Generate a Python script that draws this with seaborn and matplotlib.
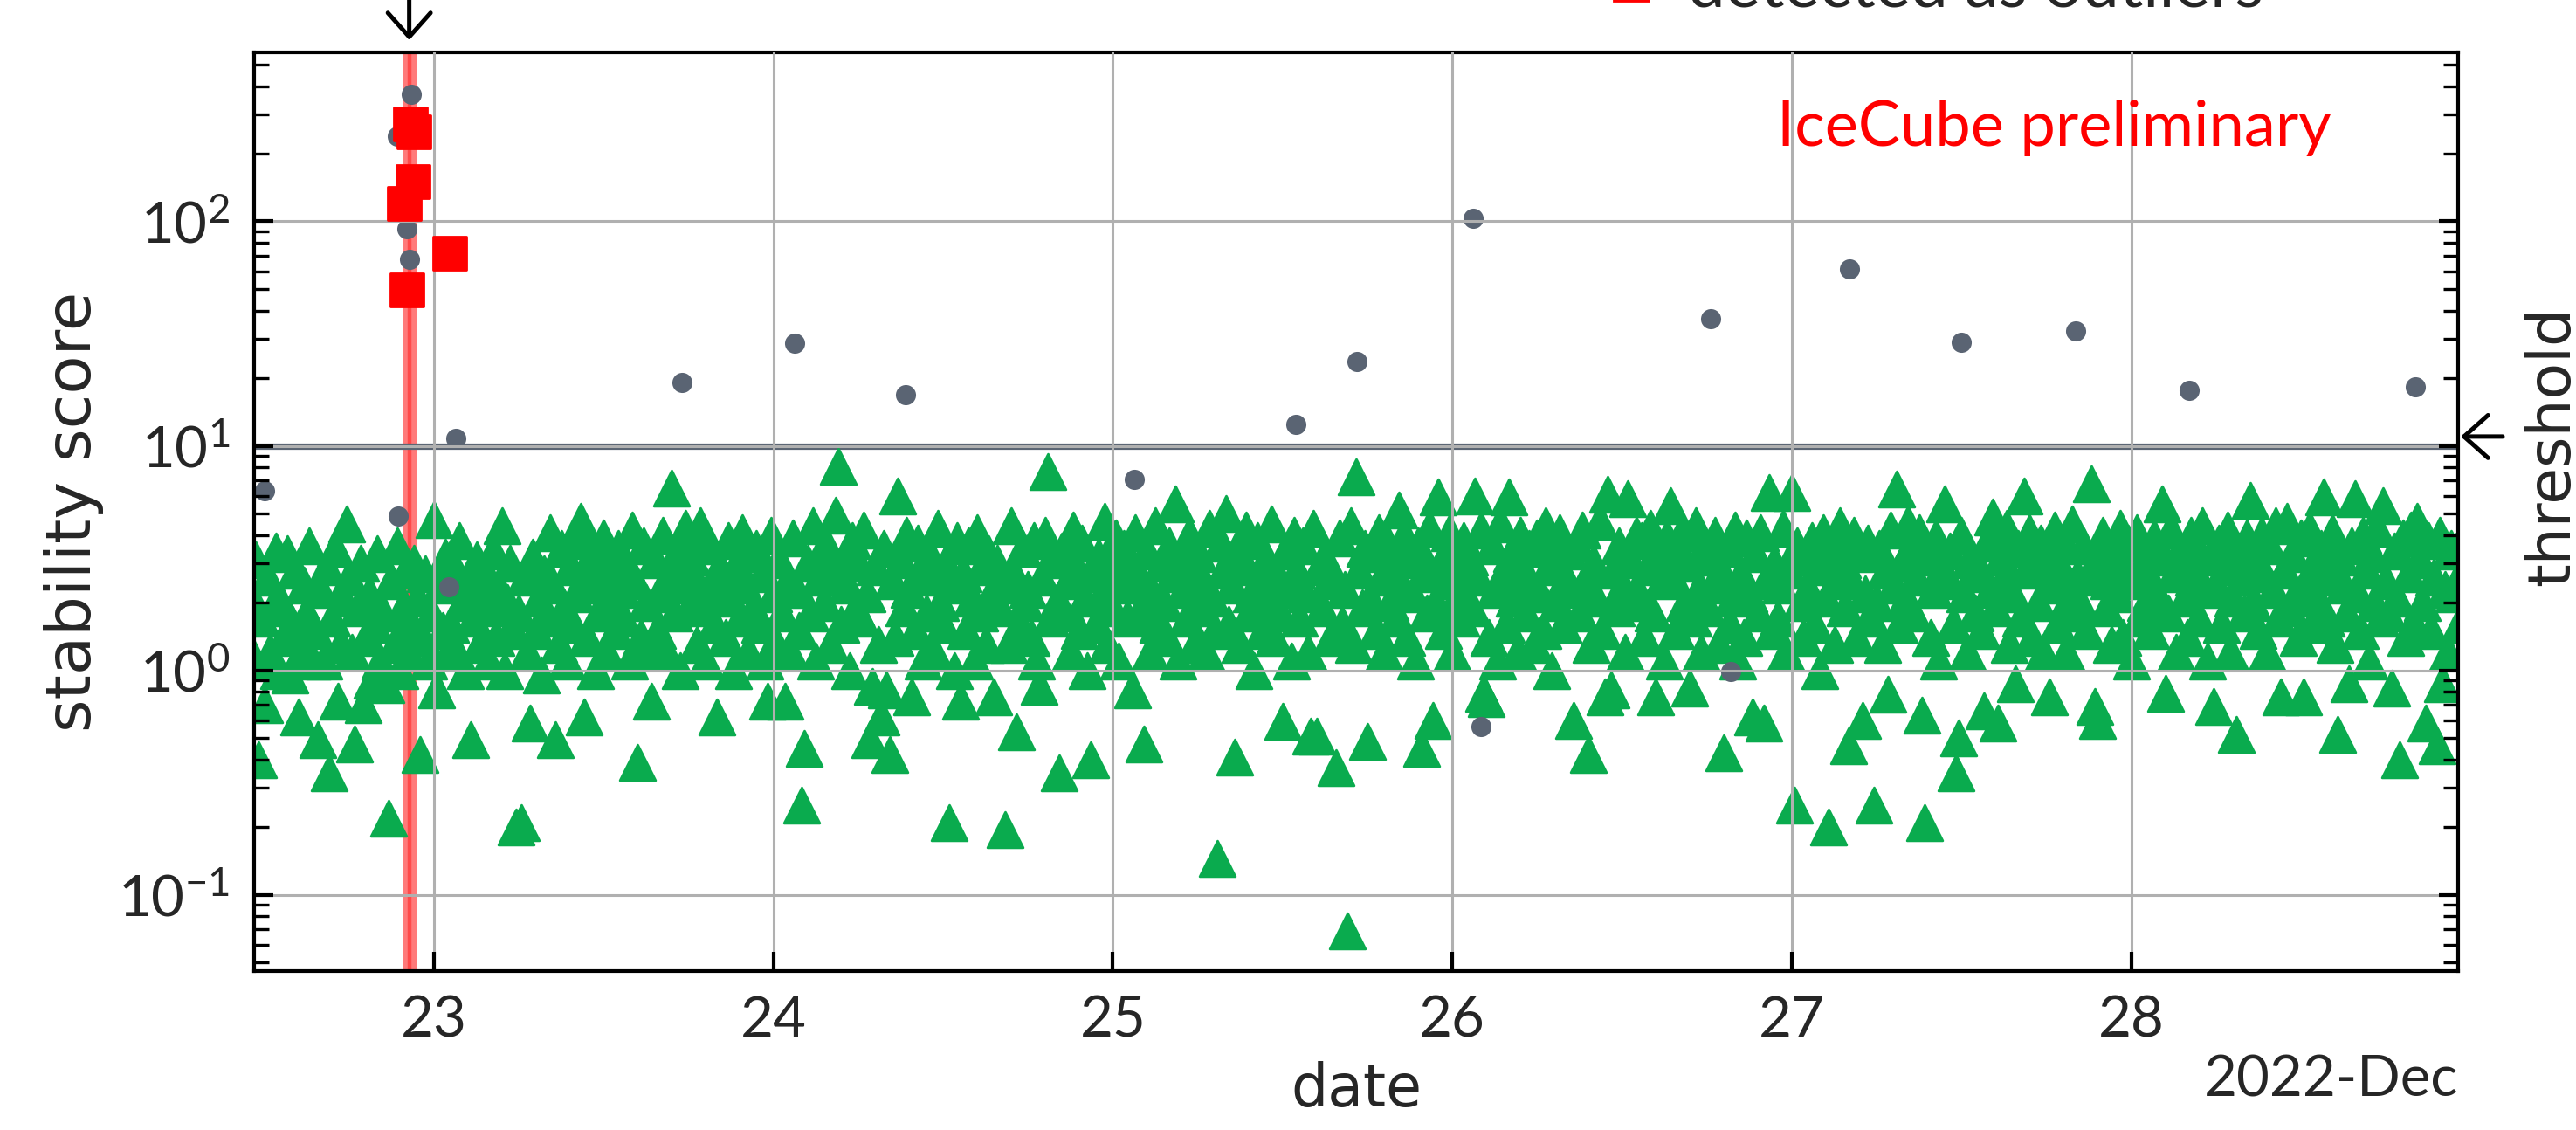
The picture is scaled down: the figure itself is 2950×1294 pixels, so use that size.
import numpy as np
import pandas as pd
import matplotlib
matplotlib.use('Agg')
import matplotlib.pyplot as plt
import matplotlib.dates as mdates
from matplotlib.lines import Line2D
import seaborn as sns

# stability score of every run (12 min cadence, starting 2022-12-22 10:48)
tri_start = '2022-12-22 10:48'
tri_scores = np.array("""
1.3 2.2 1.1 3.1 0.40 1.7 0.70 2.6 1.2 1.9 3.4 1.0
2.0 1.4 3.3 0.95 1.6 2.8 0.62 1.2 2.4 1.8 3.6 1.1
1.5 0.49 2.3 1.1 2.9 0.35 1.7 3.5 0.73 1.3 2.1 4.5
2.6 1.2 0.47 1.9 3.0 0.70 1.4 2.2 0.9 1.6 3.3 1.1
1.8 0.86 0.22 2.5 1.3 3.6 1.0 1.9 2.8 1.2 1.6 3.0
2.1 0.42 1.4 2.7 1.1 1.8 4.7 0.82 2.4 1.5 3.2 1.2
1.6 2.9 1.2 3.8 2.0 1.0 2.5 0.49 1.7 3.1 1.3 2.2
2.8 1.1 1.9 3.4 1.4 2.3 4.4 1.0 2.0 3.0 1.5 0.20
1.8 0.21 2.6 1.2 0.58 3.2 1.5 2.1 0.95 2.7 1.7 4.1
2.4 0.49 1.3 3.5 1.9 1.1 2.9 1.6 2.2 3.8 4.6 0.62
1.4 2.6 3.3 1.0 1.8 2.4 3.9 1.2 2.0 2.8 1.5 3.5
2.3 1.7 3.0 1.1 4.2 2.5 0.39 1.4 3.6 2.0 1.2 0.73
3.1 1.5 2.2 4.0 1.2 2.7 6.5 1.8 3.4 1.0 2.4 4.3
1.9 3.2 2.6 1.3 4.4 2.0 1.1 3.6 2.3 1.6 0.62 2.9
2.5 1.4 3.8 2.1 1.0 3.0 1.7 4.1 2.4 1.2 3.3 1.9
3.5 1.6 2.7 1.1 0.73 4.0 2.2 1.3 3.1 1.8 0.73 2.5
1.2 3.9 2.3 1.5 0.25 0.45 3.0 1.8 4.4 1.1 2.6 3.4
2.0 3.6 1.3 2.8 4.9 8.1 1.6 3.2 2.4 1.0 3.8 1.9
3.0 1.7 4.2 2.2 0.49 0.85 2.9 1.3 0.62 3.5 0.82 0.42
2.5 1.4 6.0 3.1 1.9 4.0 2.3 0.76 1.5 3.7 2.8 1.1
1.8 3.3 2.6 1.2 4.3 2.0 1.6 3.0 0.21 2.4 1.0 3.8
0.73 2.7 1.5 3.6 2.1 1.1 4.1 1.8 2.9 1.3 3.3 2.2
0.76 3.0 1.9 2.4 0.195 1.3 4.4 2.7 0.53 1.6 3.5 2.0
2.3 1.4 3.8 1.1 0.85 2.6 4.0 7.7 1.7 3.1 2.0 0.35
3.4 1.8 2.5 1.2 4.2 2.9 1.5 3.7 2.1 1.0 0.40 2.7
1.6 3.2 2.2 4.6 1.3 2.8 1.9 3.9 1.1 2.4 3.5 1.7
2.9 0.82 4.1 1.8 2.5 0.47 3.4 1.2 2.2 4.4 1.6 3.0
2.0 1.4 3.6 2.7 5.5 1.1 3.1 2.3 1.7 4.0 2.6 1.3
3.3 1.9 2.5 1.2 4.3 2.1 1.5 0.145 3.7 2.8 5.0 1.6
2.4 0.41 3.5 1.3 2.9 4.2 1.8 2.2 1.0 3.8 2.6 1.5
3.1 2.0 4.5 1.4 2.7 1.8 0.59 3.4 2.3 1.1 4.0 2.8
1.7 3.6 2.2 1.2 0.51 4.3 0.51 2.9 1.9 3.2 2.5 1.4
2.6 0.37 3.9 1.6 2.3 0.069 4.4 1.3 7.3 2.8 1.9 3.5
0.48 2.1 3.3 1.5 4.1 2.6 1.2 3.7 2.0 2.9 1.7 5.2
2.4 4.0 1.4 3.1 2.2 1.1 3.6 0.45 2.7 1.8 4.3 0.60
2.0 5.9 3.0 1.5 2.5 4.1 1.2 3.4 2.2 1.7 3.8 2.9
3.2 1.9 6.0 2.6 4.2 0.79 0.75 1.4 3.6 2.3 1.1 4.5
2.7 1.6 5.9 3.3 2.1 1.2 4.0 2.8 1.8 3.5 2.4 1.3
3.9 2.2 1.5 4.4 2.9 1.0 3.1 2.0 4.1 1.6 2.6 3.4
2.3 0.60 3.7 1.8 4.2 2.5 0.42 1.3 3.0 2.1 4.6 1.5
0.76 6.1 0.82 2.8 1.9 3.6 2.4 1.2 5.8 3.1 2.0 4.0
2.2 3.8 1.4 2.9 4.3 1.8 0.76 3.3 2.5 1.1 3.9 5.4
2.6 1.5 3.4 4.1 2.0 3.0 0.83 1.7 4.4 2.3 1.2 3.6
1.9 3.2 2.4 4.0 1.3 2.8 0.43 3.5 1.6 2.1 4.2 1.1
2.7 1.4 3.9 2.2 0.62 3.3 1.8 4.1 0.58 2.5 6.2 1.5
3.0 1.7 2.4 4.3 1.2 2.8 6.2 0.25 3.6 2.0 1.4 3.2
2.3 3.8 1.6 2.9 1.0 4.1 2.1 0.20 3.4 1.3 2.6 4.4
3.1 1.9 0.46 2.5 4.0 1.4 3.3 0.60 2.2 3.7 1.7 0.25
2.0 3.5 1.3 2.8 0.78 4.2 2.4 6.4 1.6 3.0 2.1 4.5
3.6 1.8 2.6 4.1 0.63 0.21 3.2 1.4 2.3 3.9 1.1 2.9
5.5 2.5 3.4 1.6 0.35 0.50 4.0 2.2 1.2 3.1 2.7 1.8
2.9 1.5 0.66 3.7 2.3 4.8 1.9 0.58 3.2 2.6 4.3 1.3
2.2 0.87 3.5 1.7 6.0 2.8 4.1 1.4 3.0 2.0 3.7 1.2
3.3 0.76 2.4 4.2 1.6 2.9 3.8 1.2 2.1 4.5 1.8 2.6
2.0 3.6 1.5 2.7 6.8 0.69 0.60 3.1 4.0 1.9 2.5 1.3
3.4 2.2 4.3 1.4 2.9 3.7 1.1 2.5 4.1 1.7 3.0 2.0
2.6 1.5 3.9 2.2 3.2 5.5 0.79 1.8 4.2 2.7 1.2 3.4
3.0 2.1 1.4 4.0 2.6 3.5 1.7 4.4 2.3 1.1 3.2 0.69
2.4 3.7 1.6 2.9 4.2 1.2 2.1 0.52 3.4 2.6 1.8 3.9
5.7 2.0 3.1 1.5 4.0 2.7 1.2 3.6 2.3 4.4 1.7 0.76
2.8 4.6 1.9 3.3 2.2 1.4 3.9 0.76 2.5 4.2 1.6 3.0
2.1 3.5 5.9 1.7 2.6 4.1 1.3 0.52 3.2 2.4 1.8 0.87
3.6 5.8 2.2 1.5 4.0 2.8 1.1 3.3 2.0 4.3 1.7 5.4
2.5 1.8 0.83 3.4 2.1 0.40 3.9 1.4 2.7 4.2 1.6 4.6
3.1 2.0 0.58 3.8 1.5 2.6 0.46 4.0 0.87 2.3 1.2 3.5
2.2 3.4 1.6 2.8
""".split(), dtype=float)

# runs not flagged by the outlier detection (day of December, score)
dot_days = [22.50, 22.895, 22.893, 22.934, 22.92, 22.928, 23.043, 23.064, 23.731,
            24.062, 24.39, 25.064, 25.54, 25.72, 26.06, 26.085, 26.76, 26.82,
            27.17, 27.50, 27.836, 28.17, 28.836]
dot_scores = [6.3, 4.85, 240, 367, 93, 68, 2.36, 10.8, 19.2,
              28.6, 16.9, 7.1, 12.5, 23.7, 103, 0.56, 36.8, 0.99,
              61.5, 28.9, 32.4, 17.7, 18.3]

# runs detected as outliers
out_days = [22.93, 22.941, 22.938, 22.913, 22.921, 23.046]
out_scores = [271, 250, 150, 120, 49.6, 72]

threshold = 10
alarm_day = 22.927
alarm_width = 0.041


def to_time(days):
    return pd.Timestamp('2022-12-01') + pd.to_timedelta(np.asarray(days, dtype=float) - 1, unit='D')


tri_times = pd.date_range(tri_start, periods=len(tri_scores), freq='12min')

sns.set_theme(style='white')
plt.rcParams['font.family'] = ['Lato', 'DejaVu Sans']
plt.rcParams['axes.unicode_minus'] = True

green = '#0aab4e'
slate = '#5a6473'
label_font = 'DejaVu Sans'

fig = plt.figure(figsize=(14.75, 6.47), dpi=200)
ax = fig.add_axes([291 / 2950, 1 - 1112 / 1294, 2524 / 2950, 1052 / 1294])

# alarm band
t0 = to_time(alarm_day - alarm_width / 2)
t1 = to_time(alarm_day + alarm_width / 2)
ax.axvspan(t0, t1, color='#ff7a7a', lw=0, zorder=0.6)
ax.axvline(to_time(alarm_day), color='#ff4a4a', lw=1.6, zorder=0.7)

ax.axhline(threshold, color=slate, lw=2.6, zorder=0.8)

sns.scatterplot(x=tri_times, y=tri_scores, marker='^', s=215, color=green,
                edgecolor=green, linewidth=1.0, ax=ax, zorder=1)
sns.scatterplot(x=to_time(dot_days), y=dot_scores, marker='o', s=69, color=slate,
                linewidth=0, ax=ax, zorder=1.2)
sns.scatterplot(x=to_time(out_days), y=out_scores, marker='s', s=190, color='red',
                edgecolor='red', linewidth=1.0, ax=ax, zorder=3)

ax.set_yscale('log')
ax.set_ylim(0.0457, 566)
ax.set_xlim(to_time(22.470), to_time(28.963))

loc = mdates.DayLocator()
ax.xaxis.set_major_locator(loc)
ax.xaxis.set_major_formatter(mdates.ConciseDateFormatter(loc))
ax.xaxis.set_minor_locator(matplotlib.ticker.NullLocator())

ax.set_axisbelow(False)
ax.grid(True, which='major', color='#b0b0b0', lw=1.1)

for sp in ax.spines.values():
    sp.set_color('black')
    sp.set_linewidth(1.5)

ax.tick_params(axis='y', which='major', direction='in', left=True, right=True,
               length=8, width=1.5, labelsize=23.5, pad=10, color='black')
ax.tick_params(axis='y', which='minor', direction='in', left=True, right=True,
               length=6, width=1.2, color='black')
ax.tick_params(axis='x', which='major', direction='in', bottom=True, top=False,
               length=8, width=1.5, labelsize=23.5, pad=10, color='black')

off = ax.xaxis.get_offset_text()
off.set_fontsize(23.5)

ax.set_xlabel('date', fontsize=24, family=label_font, labelpad=6)
ax.set_ylabel('stability score', fontsize=26, family=label_font, labelpad=6)

ax.text(0.8166, 0.918, 'IceCube preliminary', color='red', fontsize=26,
        ha='center', va='center', transform=ax.transAxes)

# arrows marking the alarm time and the threshold
arrow = dict(arrowstyle='->,head_length=0.45,head_width=0.4', lw=1.8,
             color='black', mutation_scale=22, shrinkA=0, shrinkB=0)
ax.annotate('', xy=(to_time(alarm_day), 1 - 46 / 1294), xycoords=('data', 'figure fraction'),
            xytext=(to_time(alarm_day), 1.005), textcoords=('data', 'figure fraction'),
            arrowprops=arrow)
ax.annotate('', xy=(2818 / 2950, 11.0), xycoords=('figure fraction', 'data'),
            xytext=(2866 / 2950, 11.0), textcoords=('figure fraction', 'data'),
            arrowprops=arrow, annotation_clip=False)
tr = matplotlib.transforms.blended_transform_factory(ax.transAxes, ax.transData)
ax.text(1.0297, threshold, 'threshold', transform=tr, rotation=90, ha='left',
        va='center', fontsize=24.5, family=label_font)

handle = Line2D([], [], marker='s', ls='none', color='red', markersize=14.4)
fig.legend([handle], ['detected as outliers'], loc='center left',
           bbox_to_anchor=(1830 / 2950, 1.011), frameon=False, fontsize=27.5,
           handlelength=1.0, handletextpad=0.35, borderpad=0, borderaxespad=0)

fig.savefig('out.png', dpi=200)
